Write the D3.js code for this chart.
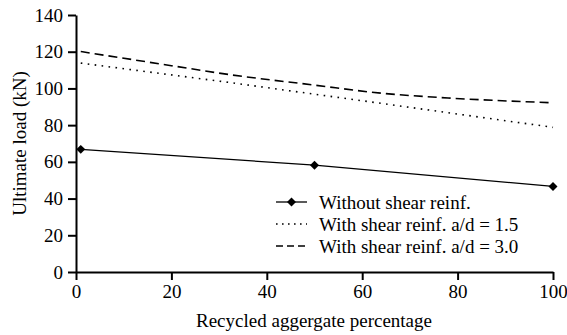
<!DOCTYPE html>
<html><head><meta charset="utf-8">
<script src="https://cdn.jsdelivr.net/npm/d3@7"></script>
<style>svg text{font-family:"Liberation Serif" !important}</style>
</head><body style="margin:0">
<svg id="c" width="567" height="335"></svg>
<script>
const xTicks = [0, 20, 40, 60, 80, 100];
const yTicks = [0, 20, 40, 60, 80, 100, 120, 140];
const withoutX = [1, 50, 100];
const withoutY = [66.8, 58.2, 46.6];
const dot15X = [1, 32, 65, 100];
const dot15Y = [113.8, 103.3, 91.5, 78.8];
const dash30X = [1, 20, 32, 50, 64, 78, 100];
const dash30Y = [120.1, 112.4, 107.6, 101.8, 97.4, 94.8, 92.2];
const legendLabels = ["Without shear reinf.", "With shear reinf. a/d = 1.5", "With shear reinf. a/d = 3.0"];
const xTitle = "Recycled aggergate percentage";
const yTitle = "Ultimate load (kN)";

const svg = d3.select("#c");
const x = d3.scaleLinear().domain([0, 100]).range([76, 553]);
const y = d3.scaleLinear().domain([0, 140]).range([272, 15]);
const fs = 19;
const setFont = s => s.style("font-family", '"Liberation Serif"', "important").style("font-size", fs + "px").attr("fill", "#000");

const xa = svg.append("g").attr("transform", `translate(0,${y(0)})`)
  .call(d3.axisBottom(x).tickValues(xTicks).tickSize(8).tickPadding(5).tickSizeOuter(0));
const ya = svg.append("g").attr("transform", `translate(${x(0)},0)`)
  .call(d3.axisLeft(y).tickValues(yTicks).tickSize(8).tickPadding(5).tickSizeOuter(0));
[xa, ya].forEach(a => {
  a.attr("font-family", "Liberation Serif").attr("font-size", fs);
  a.selectAll("path").attr("stroke", "#000").attr("stroke-width", 2);
  a.selectAll("line").attr("stroke", "#000").attr("stroke-width", 2);
  setFont(a.selectAll("text"));
});

const mk = (xs, ys) => xs.map((v, i) => [v, ys[i]]);
const line = d3.line().x(d => x(d[0])).y(d => y(d[1]));
const lineC = d3.line().x(d => x(d[0])).y(d => y(d[1])).curve(d3.curveMonotoneX);

svg.append("path").attr("d", lineC(mk(dash30X, dash30Y))).attr("fill", "none")
  .attr("stroke", "#000").attr("stroke-width", 1.6).attr("stroke-dasharray", "9,5");
svg.append("path").attr("d", line(mk(dot15X, dot15Y))).attr("fill", "none")
  .attr("stroke", "#000").attr("stroke-width", 1.6).attr("stroke-dasharray", "1.6,5.4");
const wo = mk(withoutX, withoutY);
svg.append("path").attr("d", line(wo)).attr("fill", "none").attr("stroke", "#000").attr("stroke-width", 1.3);
const diamond = d3.symbol().type(d3.symbolSquare).size(40);
svg.selectAll(".m").data(wo).enter().append("path")
  .attr("d", diamond).attr("transform", d => `translate(${x(d[0])},${y(d[1])}) rotate(45)`).attr("fill", "#000");

// legend
const lg = svg.append("g");
const ly = [202, 224, 246];
const styles = [{da: null, w: 1.3, m: true}, {da: "1.6,4.4", w: 1.6}, {da: "7,4", w: 1.6}];
legendLabels.forEach((t, i) => {
  const l = lg.append("line").attr("x1", 276).attr("x2", 307).attr("y1", ly[i]).attr("y2", ly[i])
    .attr("stroke", "#000").attr("stroke-width", styles[i].w);
  if (styles[i].da) l.attr("stroke-dasharray", styles[i].da);
  if (styles[i].m) lg.append("path").attr("d", diamond).attr("transform", `translate(291.5,${ly[i]}) rotate(45)`);
  setFont(lg.append("text").attr("x", 319).attr("y", ly[i] + 7)).text(t);
});

setFont(svg.append("text").attr("x", 314).attr("y", 327).attr("text-anchor", "middle")).text(xTitle);
setFont(svg.append("text").attr("transform", `translate(26,${(15 + 272) / 2}) rotate(-90)`).attr("text-anchor", "middle")).text(yTitle);
</script>
</body></html>
